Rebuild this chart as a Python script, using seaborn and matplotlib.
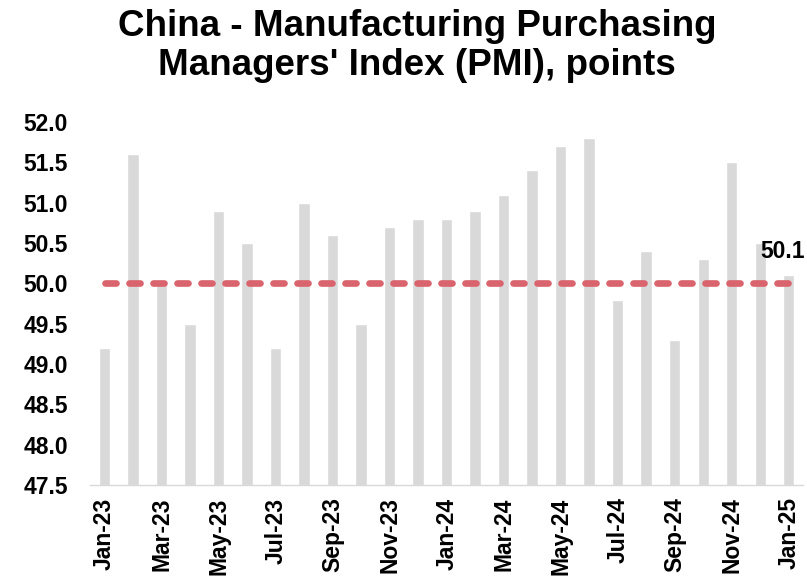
import matplotlib
matplotlib.use("Agg")
import matplotlib.pyplot as plt
import seaborn as sns
import pandas as pd
from matplotlib.ticker import FixedLocator, FixedFormatter

months = ["Jan-23", "Feb-23", "Mar-23", "Apr-23", "May-23", "Jun-23", "Jul-23",
          "Aug-23", "Sep-23", "Oct-23", "Nov-23", "Dec-23", "Jan-24", "Feb-24",
          "Mar-24", "Apr-24", "May-24", "Jun-24", "Jul-24", "Aug-24", "Sep-24",
          "Oct-24", "Nov-24", "Dec-24", "Jan-25"]
pmi = [49.2, 51.6, 50.0, 49.5, 50.9, 50.5, 49.2, 51.0, 50.6, 49.5, 50.7, 50.8,
       50.8, 50.9, 51.1, 51.4, 51.7, 51.8, 49.8, 50.4, 49.3, 50.3, 51.5, 50.5, 50.1]
threshold = 50.0
y_ticks = [47.5, 48.0, 48.5, 49.0, 49.5, 50.0, 50.5, 51.0, 51.5, 52.0]

df = pd.DataFrame({"month": months, "pmi": pmi})

sns.set_style("white")
plt.rcParams["font.family"] = ["Liberation Sans", "DejaVu Sans"]
plt.rcParams["font.weight"] = "bold"
plt.rcParams["text.color"] = "black"
plt.rcParams["xtick.color"] = "black"
plt.rcParams["ytick.color"] = "black"

fig = plt.figure(figsize=(8.07, 5.76), dpi=100)
ax = fig.add_axes([0.112, 0.158, 0.883, 0.630])

sns.barplot(data=df, x="month", y="pmi", color="#d9d9d9", width=0.4,
            saturation=1, ax=ax)

n = len(months)
ax.plot([0, n - 1], [threshold, threshold], color="#d9646e", lw=4.8,
        linestyle=(0, (1.65, 1.95)), dash_capstyle="round", zorder=3)

ax.set_ylim(y_ticks[0], y_ticks[-1])
ax.set_xlim(-0.5, n - 0.5)
ax.set_yticks(y_ticks)
ax.set_yticklabels([f"{v:.1f}" for v in y_ticks], fontsize=16.5,
                   fontweight="bold")
ax.tick_params(axis="y", length=0, pad=16, labelcolor="black")

major = list(range(0, n, 2))
ax.xaxis.set_major_locator(FixedLocator(major))
ax.xaxis.set_major_formatter(FixedFormatter([months[i] for i in major]))
ax.xaxis.set_minor_locator(FixedLocator([i - 0.5 for i in range(0, n, 2)]))
ax.tick_params(axis="x", which="major", length=0, pad=9, labelsize=16.5,
               rotation=90, labelcolor="black")
ax.tick_params(axis="x", which="minor", length=6, width=1, color="#d9d9d9",
               direction="out")
for lab in ax.get_xticklabels():
    lab.set_fontweight("bold")

for side in ["top", "right", "left"]:
    ax.spines[side].set_visible(False)
ax.spines["bottom"].set_color("#d9d9d9")
ax.spines["bottom"].set_linewidth(1)
ax.set_xlabel("")
ax.set_ylabel("")

# latest reading, written just above and left of the last bar
ax.annotate(f"{pmi[-1]:.1f}", xy=(n - 1, pmi[-1]), xytext=(-28, 24),
            textcoords="offset pixels", ha="left", va="center",
            fontsize=16.5, fontweight="bold", color="black",
            annotation_clip=False)

fig.text(0.517, 0.985,
         "China - Manufacturing Purchasing\nManagers' Index (PMI), points",
         ha="center", va="top", fontsize=26.5, fontweight="bold",
         color="black", linespacing=1.15)

fig.savefig("out.png", dpi=100)
